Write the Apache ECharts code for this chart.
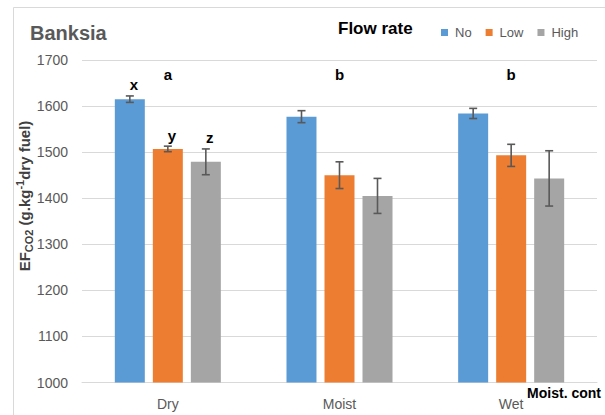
<!DOCTYPE html>
<html>
<head>
<meta charset="utf-8">
<script src="https://cdn.jsdelivr.net/npm/echarts@6/dist/echarts.min.js"></script>
<style>
html,body{margin:0;padding:0;background:#fff;}
#c{width:605px;height:415px;}
</style>
</head>
<body>
<div id="c"></div>
<script>
// ---- data ----
const categories = ['Dry', 'Moist', 'Wet'];
const seriesNames = ['No', 'Low', 'High'];
const valuesNo   = [1615, 1577, 1584];
const valuesLow  = [1507, 1450, 1493];
const valuesHigh = [1479, 1405, 1443];
const errNo   = [7, 13, 11];
const errLow  = [6, 29, 24];
const errHigh = [28, 38, 60];
const groupLetters = ['a', 'b', 'b'];
const dryLetters = ['x', 'y', 'z'];
const yTicks = [1000, 1100, 1200, 1300, 1400, 1500, 1600, 1700];

// ---- style/layout ----
const colors = ['#5B9BD5', '#ED7D31', '#A5A5A5'];
const FONT = '"Liberation Sans", Arial, sans-serif';
const BAR_W = 30, BAR_STEP = 38;
const allVals = [valuesNo, valuesLow, valuesHigh];
const allErr = [errNo, errLow, errHigh];

const chart = echarts.init(document.getElementById('c'), null, {renderer: 'svg'});

const barSeries = seriesNames.map((n, s) => ({
  name: n, type: 'bar', barWidth: BAR_W, barGap: '26.7%',
  itemStyle: {color: colors[s]},
  data: allVals[s], z: 2
}));

const errSeries = seriesNames.map((n, s) => ({
  type: 'custom', name: n + '_err', z: 5, silent: true,
  data: categories.map((c, i) => [i, allVals[s][i], allErr[s][i]]),
  renderItem: function (params, api) {
    const i = api.value(0), m = api.value(1), e = api.value(2);
    const x = api.coord([i, m])[0] + (s - 1) * BAR_STEP;
    const yT = api.coord([i, m + e])[1];
    const yB = api.coord([i, m - e])[1];
    const st = {stroke: '#595959', lineWidth: 1.6};
    const children = [
      {type: 'line', shape: {x1: x, y1: yT, x2: x, y2: yB}, style: st},
      {type: 'line', shape: {x1: x - 4, y1: yT, x2: x + 4, y2: yT}, style: st},
      {type: 'line', shape: {x1: x - 4, y1: yB, x2: x + 4, y2: yB}, style: st}
    ];
    if (i === 0) {
      children.push({type: 'text', style: {
        text: dryLetters[s], x: x + 4, y: yT - 11,
        align: 'center', verticalAlign: 'middle',
        font: 'bold 15px ' + FONT, fill: '#000'
      }});
    }
    return {type: 'group', children: children};
  }
}));

const letterSeries = {
  type: 'custom', name: 'letters', z: 6, silent: true,
  data: categories.map((c, i) => [i, 1700]),
  renderItem: function (params, api) {
    const i = api.value(0);
    const p = api.coord([i, api.value(1)]);
    return {type: 'text', style: {
      text: groupLetters[i], x: p[0], y: p[1] + 14,
      align: 'center', verticalAlign: 'middle',
      font: 'bold 15px ' + FONT, fill: '#000'
    }};
  }
};

chart.setOption({
  animation: false,
  textStyle: {fontFamily: FONT},
  grid: {left: 82, right: 8, top: 60, bottom: 32.5},
  title: {
    text: 'Banksia', left: 25, top: 18,
    textStyle: {fontSize: 20, fontWeight: 'bold', color: '#595959', fontFamily: FONT}
  },
  legend: {
    data: seriesNames, left: 436, top: 21, icon: 'rect',
    itemWidth: 7, itemHeight: 7, itemGap: 14,
    textStyle: {fontSize: 13, color: '#595959', fontFamily: FONT, padding: [0, 0, 0, 2]}
  },
  xAxis: {
    type: 'category', data: categories,
    axisLine: {lineStyle: {color: '#d9d9d9', width: 1}},
    axisTick: {show: false},
    axisLabel: {fontSize: 14, color: '#595959', margin: 14, fontFamily: FONT}
  },
  yAxis: {
    type: 'value', min: yTicks[0], max: yTicks[yTicks.length - 1], interval: 100,
    axisLine: {show: false}, axisTick: {show: false},
    splitLine: {lineStyle: {color: '#d9d9d9', width: 1}},
    axisLabel: {fontSize: 14, color: '#595959', margin: 14, fontFamily: FONT,
                formatter: v => String(v)}
  },
  graphic: [
    {type: 'rect', left: 11, top: 5, shape: {width: 600, height: 408},
     style: {fill: 'none', stroke: '#d9d9d9', lineWidth: 1}, silent: true, z: -1},
    {type: 'text', left: 338, top: 20,
     style: {text: 'Flow rate', font: 'bold 17px ' + FONT, fill: '#000'}},
    {type: 'text', right: 4, top: 386,
     style: {text: 'Moist. cont', font: 'bold 14px ' + FONT, fill: '#000'}},
    {type: 'text', x: 24, y: 196, rotation: Math.PI / 2,
     style: {
       text: '{b|EF}{sub|CO2}{b| (g.kg}{sup|-1}{b|dry fuel)}',
       align: 'center', verticalAlign: 'middle',
       rich: {
         b: {font: 'bold 15px ' + FONT, fill: '#404040', lineHeight: 20, verticalAlign: 'middle'},
         sub: {font: 'bold 11px ' + FONT, fill: '#404040', lineHeight: 20, verticalAlign: 'bottom', padding: [6, 0, 0, 0]},
         sup: {font: 'bold 11px ' + FONT, fill: '#404040', lineHeight: 20, verticalAlign: 'top', padding: [0, 0, 6, 0]}
       }
     }}
  ],
  series: [...barSeries, ...errSeries, letterSeries]
});
</script>
</body>
</html>
